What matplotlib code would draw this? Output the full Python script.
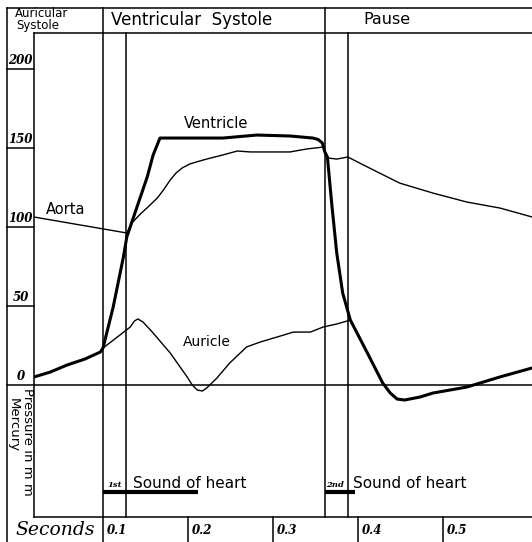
import matplotlib.pyplot as plt

# pressure curves of one heart cycle, time in seconds, pressure in mm Hg
ventricle_t = [0.019, 0.038, 0.058, 0.079, 0.097, 0.100, 0.112, 0.124, 0.128, 0.140,
               0.152, 0.159, 0.167, 0.202, 0.241, 0.281, 0.320, 0.347, 0.353, 0.358,
               0.361, 0.364, 0.369, 0.375, 0.382, 0.391, 0.411, 0.429, 0.438, 0.446,
               0.455, 0.473, 0.488, 0.528, 0.567, 0.605]
ventricle_p = [5.1, 8.2, 12.7, 16.5, 20.9, 23.4, 49.4, 81.0, 93.7, 112.7,
               131.6, 145.6, 156.3, 156.3, 156.3, 158.2, 157.6, 156.3, 155.4, 153.2,
               147.5, 144.3, 115.2, 83.5, 58.2, 41.1, 20.3, 1.3, -5.1, -8.9,
               -9.5, -7.6, -5.1, -1.3, 5.1, 10.8]

aorta_t = [0.019, 0.073, 0.128, 0.135, 0.144, 0.153, 0.164, 0.172, 0.179, 0.186,
           0.193, 0.202, 0.214, 0.222, 0.241, 0.258, 0.273, 0.296, 0.320, 0.340,
           0.359, 0.364, 0.375, 0.388, 0.411, 0.449, 0.488, 0.528, 0.567, 0.605]
aorta_p = [106.3, 101.3, 96.2, 103.2, 108.2, 112.7, 118.4, 124.1, 129.7, 134.2,
           137.3, 139.9, 141.8, 143.0, 145.6, 148.1, 147.5, 147.5, 147.5, 149.4,
           150.6, 143.7, 143.0, 144.3, 138.0, 127.8, 121.5, 115.8, 112.0, 106.3]

# auricle leaves the ventricle curve at 0.1 s and joins it again near 0.39 s
auricle_t = [0.100, 0.117, 0.132, 0.137, 0.141, 0.147, 0.159, 0.179, 0.199, 0.205,
             0.211, 0.217, 0.222, 0.234, 0.249, 0.269, 0.285, 0.305, 0.324, 0.344,
             0.359, 0.375, 0.391]
auricle_p = [23.4, 30.4, 36.7, 40.5, 41.8, 39.9, 32.9, 20.3, 5.1, 0.0,
             -3.2, -3.8, -1.9, 4.4, 13.9, 24.1, 27.2, 30.4, 33.5, 33.5,
             36.7, 38.6, 41.1]

sound1 = [0.100, 0.212]
sound2 = [0.361, 0.396]
phase_lines = [0.100, 0.127, 0.361, 0.388]
pressure_ticks = [0, 50, 100, 150, 200]
second_ticks = [0.1, 0.2, 0.3, 0.4, 0.5]

W, H = 532, 542


def px(x, y):
    # picture pixel -> (seconds, mm Hg), used only for placing the frame and text
    return (x - 18) / 850.0, (385 - y) / 1.58


num_font = dict(family='DejaVu Serif', weight='bold', style='italic')
txt_font = dict(family='DejaVu Sans')

fig = plt.figure(figsize=(W / 100, H / 100), dpi=100)
ax = fig.add_axes([34 / W, 1 - 517 / H, (W - 34) / W, (517 - 33) / H])
x0, y0 = px(34, 517)
x1, y1 = px(532, 33)
ax.set_xlim(x0, x1)
ax.set_ylim(y0, y1)
ax.set_xticks([])
ax.set_yticks([])
ax.spines['right'].set_visible(False)
for s in ['left', 'top', 'bottom']:
    ax.spines[s].set_linewidth(1.1)

frame = dict(color='black', lw=1.1, clip_on=False)

# outer frame, header, baseline
xl, ytop = px(7, 8)
_, ybot = px(7, 542)
xr, _ = px(532, 8)
ax.plot([xl, xl], [ytop, ybot], **frame)
ax.plot([xl, xr], [ytop, ytop], **frame)
ax.plot([xl, xr], [0, 0], **frame)

# phase lines, the first of each pair runs up through the header
for i, t in enumerate(phase_lines):
    top = ytop if i % 2 == 0 else y1
    ax.plot([t, t], [y0, top], **frame)

# pressure scale in the left column
xc, _ = px(20.5, 0)
for v in pressure_ticks:
    if v > 0:
        ax.plot([xl, x0], [v, v], **frame)
    ax.text(xc, v + 1.5, str(v), ha='center', va='bottom', fontsize=8.5, **num_font)

# seconds row
for t in second_ticks:
    ax.plot([t, t], [y0, ybot], **frame)
    ax.text(t + 0.005, px(0, 531)[1], str(t), ha='left', va='center', fontsize=8.5, **num_font)
ax.text(*px(15, 530), 'Seconds', ha='left', va='center', fontsize=13.5,
        family='DejaVu Serif', style='italic')

# curves
ax.plot(aorta_t, aorta_p, color='black', lw=1.0)
ax.plot(auricle_t, auricle_p, color='black', lw=1.0)
ax.plot(ventricle_t, ventricle_p, color='black', lw=2.2, solid_capstyle='round',
        solid_joinstyle='round')

# heart sounds
ysnd = px(0, 492)[1]
ax.plot(sound1, [ysnd, ysnd], color='black', lw=3.0, solid_capstyle='butt')
ax.plot(sound2, [ysnd, ysnd], color='black', lw=3.0, solid_capstyle='butt')
ax.text(*px(107, 485), '1st', ha='left', va='center', fontsize=6, **num_font)
ax.text(*px(326, 485), '2nd', ha='left', va='center', fontsize=6, **num_font)
ax.text(*px(133, 483), 'Sound of heart', ha='left', va='center', fontsize=11, **txt_font)
ax.text(*px(353, 483), 'Sound of heart', ha='left', va='center', fontsize=11, **txt_font)

# headers
ax.text(*px(42, 13.5), 'Auricular', ha='center', va='center', fontsize=8.5, **txt_font)
ax.text(*px(38, 26), 'Systole', ha='center', va='center', fontsize=8.5, **txt_font)
ax.text(*px(192, 20), 'Ventricular  Systole', ha='center', va='center', fontsize=12, **txt_font)
ax.text(*px(387, 20), 'Pause', ha='center', va='center', fontsize=11.5, **txt_font)

# curve names
ax.text(*px(66, 210), 'Aorta', ha='center', va='center', fontsize=10.5, **txt_font)
ax.text(*px(216, 124), 'Ventricle', ha='center', va='center', fontsize=10.5, **txt_font)
ax.text(*px(207, 342), 'Auricle', ha='center', va='center', fontsize=10, **txt_font)

# rotated axis title
ax.text(*px(27.5, 388), 'Pressure in m m', rotation=-90, ha='center', va='top',
        fontsize=9.5, **txt_font)
ax.text(*px(13.5, 398), 'Mercury', rotation=-90, ha='center', va='top',
        fontsize=9.5, **txt_font)

fig.savefig('out.png', dpi=100)
